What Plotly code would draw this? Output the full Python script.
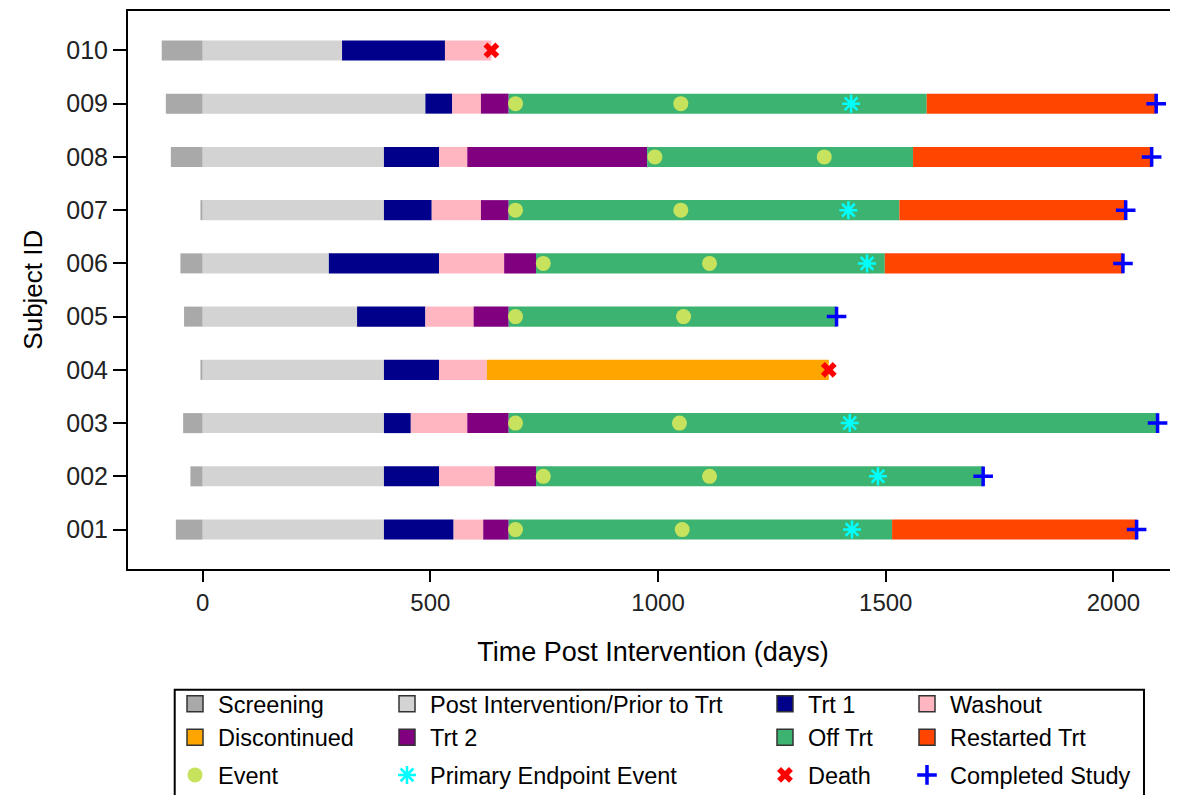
"""Subject swimmer plot: treatment phases and events per subject."""

import plotly.graph_objects as go

subjects = ["001", "002", "003", "004", "005", "006", "007", "008", "009", "010"]

# phase boundaries in days post intervention (None = phase not present)
screen_start = [-59, -27, -43, -5, -41, -49, -5, -70, -81, -90]
intervention_day = [0, 0, 0, 0, 0, 0, 0, 0, 0, 0]
trt1_start = [398, 398, 398, 398, 339, 277, 398, 398, 489, 306]
trt1_end = [551, 519, 457, 519, 489, 519, 503, 519, 548, 532]
washout_end = [616, 641, 581, 624, 595, 662, 611, 581, 611, 634]
trt2_end = [672, 732, 672, None, 672, 732, 672, 976, 672, None]
off_end = [1514, 1714, 2097, None, 1392, 1498, 1530, 1560, 1590, None]
restart_end = [2051, None, None, None, None, 2021, 2027, 2084, 2094, None]
disc_end = [None, None, None, 1375, None, None, None, None, None, None]

event_subj = ["001", "001", "002", "002", "003", "003", "005", "005",
              "006", "006", "007", "007", "008", "008", "009", "009"]
event_day = [687, 1053, 748, 1113, 687, 1047, 687, 1056,
             748, 1113, 687, 1050, 993, 1365, 687, 1050]
pe_subj = ["001", "002", "003", "006", "007", "009"]
pe_day = [1426, 1483, 1421, 1459, 1418, 1424]
death_subj = ["004", "010"]
death_day = [1375, 634]
done_subj = ["001", "002", "003", "005", "006", "007", "008", "009"]
done_day = [2051, 1714, 2097, 1392, 2021, 2027, 2084, 2094]

FONT = "Liberation Sans, Arial, sans-serif"
OFF = 8                      # page body margin
W, H = 1178 - OFF, 795 - OFF

phases = [
    ("Screening", "#A9A9A9", screen_start, intervention_day),
    ("Post Intervention/Prior to Trt", "#D3D3D3", intervention_day, trt1_start),
    ("Trt 1", "#00008B", trt1_start, trt1_end),
    ("Washout", "#FFB6C1", trt1_end, washout_end),
    ("Discontinued", "#FFA500", washout_end, disc_end),
    ("Trt 2", "#800080", washout_end, trt2_end),
    ("Off Trt", "#3CB371", trt2_end, off_end),
    ("Restarted Trt", "#FF4500", off_end, restart_end),
]

fig = go.Figure()

for name, color, starts, ends in phases:
    ys, base, dur = [], [], []
    for s, a, b in zip(subjects, starts, ends):
        if a is None or b is None:
            continue
        ys.append(s)
        base.append(a)
        dur.append(b - a)
    fig.add_trace(go.Bar(
        y=ys, x=dur, base=base, orientation="h", width=0.376,
        marker=dict(color=color, line=dict(width=0)),
        name=name, showlegend=False,
    ))

markers = {
    "Event": dict(symbol="circle", size=15, color="#C7E25D", line=dict(width=0)),
    "Primary Endpoint Event": dict(symbol="asterisk", size=15, color="#00FFFF",
                                   line=dict(color="#00FFFF", width=2.5)),
    "Death": dict(symbol="x", size=14, color="#FF0000", line=dict(width=0)),
    "Completed Study": dict(symbol="cross-thin", size=14, color="#0000FF",
                            line=dict(color="#0000FF", width=3.5)),
}
for name, xs, ys in [("Event", event_day, event_subj),
                     ("Primary Endpoint Event", pe_day, pe_subj),
                     ("Death", death_day, death_subj),
                     ("Completed Study", done_day, done_subj)]:
    fig.add_trace(go.Scatter(
        x=xs, y=ys, mode="markers", marker=markers[name],
        name=name, showlegend=False, cliponaxis=False,
    ))

# legend: 4 columns x 3 rows
legend_grid = [
    ["Screening", "Discontinued", "Event"],
    ["Post Intervention/Prior to Trt", "Trt 2", "Primary Endpoint Event"],
    ["Trt 1", "Off Trt", "Death"],
    ["Washout", "Restarted Trt", "Completed Study"],
]
colors = {name: color for name, color, _, _ in phases}
col_text_x = [218, 430, 808, 950]
legend_layout = {}
for ci, column in enumerate(legend_grid):
    lname = "legend" if ci == 0 else f"legend{ci + 1}"
    for ri, name in enumerate(column):
        if name in colors:
            mk = dict(symbol="square", size=16, color=colors[name],
                      line=dict(color="#333", width=1.5))
        else:
            mk = markers[name]
        fig.add_trace(go.Scatter(
            x=[None], y=[None], mode="markers", marker=mk, name=name,
            legend=lname, legendgroup=f"{lname}-{'a' if ri < 2 else 'b'}",
            legendrank=ri + 1, showlegend=True,
        ))
    legend_layout[lname] = dict(
        xref="container", yref="container",
        x=(col_text_x[ci] - 54) / W, y=1 - 674 / H,
        xanchor="left", yanchor="top",
        orientation="v", itemwidth=36, tracegroupgap=4,
        bgcolor="rgba(0,0,0,0)", borderwidth=0,
        font=dict(family=FONT, size=23.5, color="black"),
        groupclick="toggleitem",
    )

# plot area in screenshot pixels
px0, px1 = 128.3, 1178
py0, py1 = 11, 568.7


def paper_x(px):
    return (px - px0) / (px1 - px0)


def paper_y(py):
    return (py1 - py) / (py1 - py0)


# legend frame (bottom edge falls outside the picture)
fig.add_shape(
    type="rect", xref="paper", yref="paper",
    x0=paper_x(175), x1=paper_x(1144), y0=paper_y(689.5), y1=paper_y(810),
    line=dict(color="black", width=2), fillcolor="rgba(0,0,0,0)",
)

# y axis title
fig.add_annotation(
    text="Subject ID", xref="paper", yref="paper",
    x=paper_x(33), y=0.5, textangle=-90, showarrow=False,
    xanchor="center", yanchor="middle",
    font=dict(family=FONT, size=26, color="black"),
)

fig.update_xaxes(
    range=[-164.1, 2141.9], tickvals=[0, 500, 1000, 1500, 2000],
    showline=True, linewidth=2, linecolor="black", mirror=True,
    ticks="outside", ticklen=11, tickwidth=2, tickcolor="black",
    showgrid=False, zeroline=False,
    tickfont=dict(family=FONT, size=24, color="#222"),
    title=dict(text="Time Post Intervention (days)", standoff=27,
               font=dict(family=FONT, size=27, color="black")),
)
fig.update_yaxes(
    type="category", categoryorder="array", categoryarray=subjects,
    range=[-0.74, 9.74],
    showline=True, linewidth=2, linecolor="black", mirror=False,
    ticks="outside", ticklen=13, tickwidth=2, tickcolor="black",
    ticklabelstandoff=0,
    showgrid=False, zeroline=False,
    tickfont=dict(family=FONT, size=25, color="#222"),
)
fig.update_layout(
    width=W, height=H, barmode="overlay",
    margin=dict(l=px0 - OFF, r=0, t=py0 - OFF, b=H - (py1 - OFF),
                autoexpand=False),
    plot_bgcolor="white", paper_bgcolor="white",
    **legend_layout,
)

fig.write_html("out.html")
